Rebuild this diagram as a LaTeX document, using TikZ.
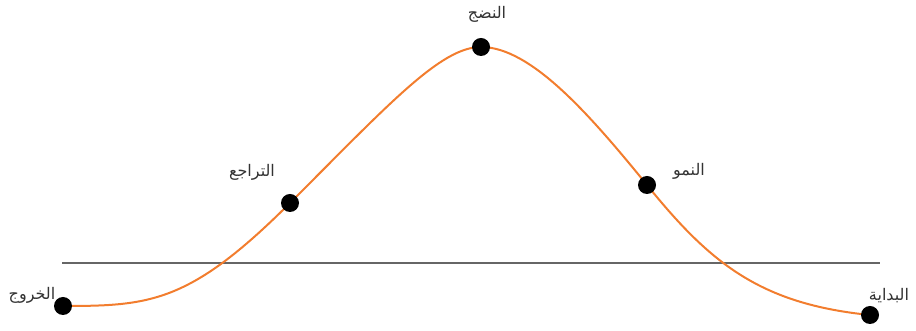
\documentclass[tikz,border=0pt]{standalone}
\usepackage{fontspec}
\newfontfamily\arabicfont[Script=Arabic]{DejaVu Sans}
\TeXXeTstate=1
\usepackage{tikz}
\usetikzlibrary{positioning}
\definecolor{curveorange}{HTML}{F27D2E}
\definecolor{axisgray}{HTML}{666666}
\definecolor{lblgray}{HTML}{333333}
\tikzset{
  dot/.style   = {circle, fill=black, minimum size=18pt, inner sep=0pt},
  lbl/.style   = {font=\arabicfont\fontsize{16}{18}\selectfont, text=lblgray, inner sep=0pt},
  cycle/.style = {curveorange, line width=2pt},
  base/.style  = {axisgray, line width=1.5pt},
}

\begin{document}
\begin{tikzpicture}[x=1pt, y=1pt]
  \useasboundingbox (0,0) rectangle (916,331);
  % baseline
  \coordinate (bl) at (62,68);
  \coordinate (br) at (880,68);
  \draw[base] (bl) -- (br);
  % stage points
  \coordinate (pex) at (63,25);
  \coordinate (pdc) at (290,128);
  \coordinate (ppk) at (481,284);
  \coordinate (pgr) at (647,146);
  \coordinate (pst) at (870,16);
  % life cycle curve
  \draw[cycle] (pex) .. controls (150,25) and (190,28) .. (pdc)
                     .. controls (390,228) and (441,284) .. (ppk)
                     .. controls (531,284) and (590,216) .. (pgr)
                     .. controls (710,68) and (760,27) .. (pst);
  % dots
  \node[dot] (ex) at (pex) {};
  \node[dot] (dc) at (pdc) {};
  \node[dot] (pk) at (ppk) {};
  \node[dot] (gr) at (pgr) {};
  \node[dot] (st) at (pst) {};
  % labels
  \node[lbl, xshift=6pt, yshift=33pt] (lpk) at (pk) {\beginR النضج\endR};
  \node[lbl, xshift=42pt, yshift=14pt] (lgr) at (gr) {\beginR النمو\endR};
  \node[lbl, xshift=-38pt, yshift=31pt] (ldc) at (dc) {\beginR التراجع\endR};
  \node[lbl, xshift=-31pt, yshift=11pt] (lex) at (ex) {\beginR الخروج\endR};
  \node[lbl, xshift=19pt, yshift=19pt] (lst) at (st) {\beginR البداية\endR};
\end{tikzpicture}
\end{document}
